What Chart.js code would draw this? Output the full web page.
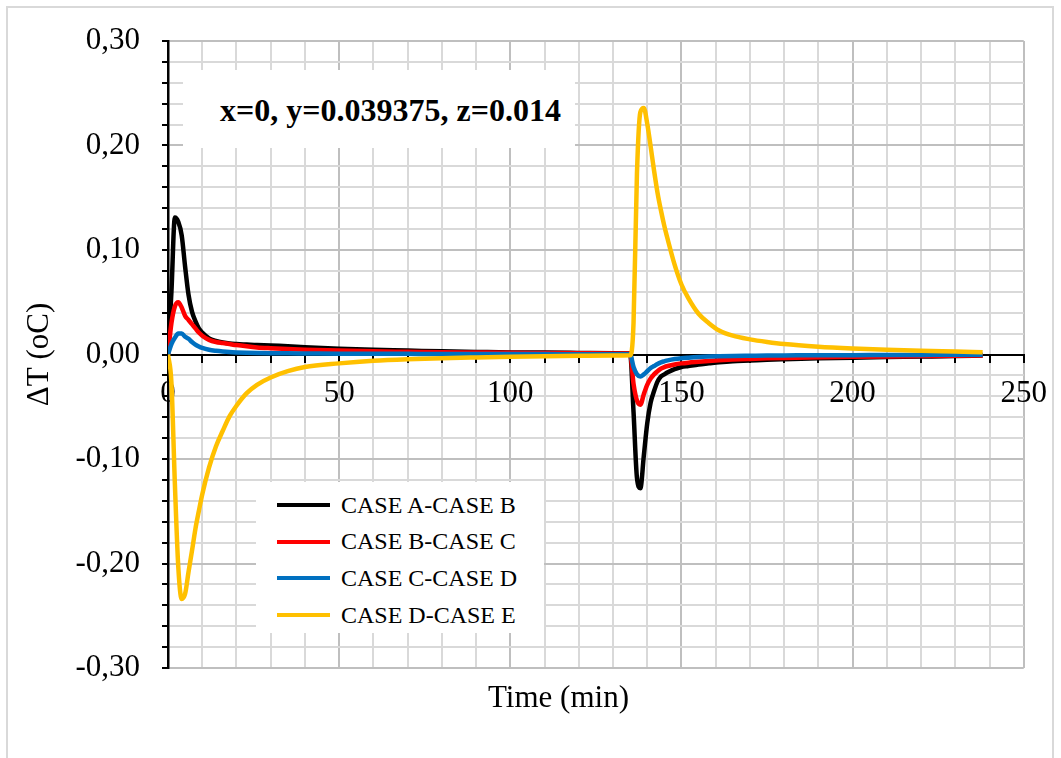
<!DOCTYPE html>
<html lang="en">
<head>
<meta charset="utf-8">
<title>ΔT vs Time</title>
<script src="https://cdn.jsdelivr.net/npm/chart.js@4"></script>
<style>
    html, body { margin: 0; padding: 0; background: #fff; }
    #wrap {
        position: relative; width: 1061px; height: 758px; overflow: hidden;
        font-family: "Liberation Serif", "Times New Roman", serif; color: #000;
    }
    #chart { position: absolute; left: 0; top: 0; }
    .frame {
        position: absolute; left: 6px; top: 6px; width: 1044px; height: 800px;
        border: 2px solid #d9d9d9; pointer-events: none;
    }
    .note {
        position: absolute; left: 183px; top: 70px; width: 392px; height: 78px;
        background: #fff; box-sizing: border-box; padding-left: 37px;
        font-weight: bold; font-size: 32px; line-height: 80px; white-space: nowrap;
    }
    .legend {
        position: absolute; left: 256px; top: 482px; width: 288px; height: 151px; background: #fff;
    }
    .legend-item {
        position: absolute; left: 21px; height: 30px; display: flex; align-items: center;
        font-size: 24px; white-space: nowrap;
    }
    .legend-swatch { width: 53px; height: 4px; margin-right: 11px; }
    .x-title { position: absolute; left: 488px; top: 680px; font-size: 31px; line-height: 34px; white-space: nowrap; }
</style>
</head>
<body>
<div id="wrap">
    <canvas id="chart" width="1061" height="758"></canvas>
    <div class="note">x=0, y=0.039375, z=0.014</div>
    <div class="legend" id="legend"></div>
    <div class="x-title">Time (min)</div>
    <div class="frame"></div>
</div>
<script>
// time axis (min), shared by all series
const times = [0, 1, 2, 3, 4, 5, 6, 7, 8, 9, 10, 12, 14, 16, 18, 20, 23, 26, 30, 35, 40,
    50, 60, 70, 80, 90, 100, 110, 120, 130,
    135, 136, 137, 138, 139, 140, 141, 142, 143, 144, 145, 146,
    148, 150, 152, 155, 158, 161, 165, 170, 175, 180,
    190, 200, 210, 220, 230, 238];

// ΔT values
const caseAB = [0, 0.060, 0.131, 0.127, 0.114, 0.084, 0.057, 0.041, 0.032, 0.025, 0.021,
    0.0155, 0.013, 0.0115, 0.0105, 0.010,
    0.0095, 0.009, 0.0087, 0.008, 0.007,
    0.0055, 0.0045, 0.0038, 0.003, 0.0025, 0.002, 0.0018, 0.0015, 0.0012,
    0.001, -0.055, -0.118, -0.128, -0.097, -0.066, -0.046, -0.035, -0.026, -0.021, -0.019, -0.017,
    -0.014, -0.012, -0.011, -0.0095, -0.0085, -0.0075, -0.0065, -0.0058, -0.005, -0.0045,
    -0.0037, -0.003, -0.0025, -0.002, -0.0015, -0.001];
const caseBC = [0, 0.030, 0.046, 0.050, 0.045, 0.037, 0.033, 0.029, 0.025, 0.021, 0.018,
    0.014, 0.012, 0.011, 0.010, 0.009,
    0.0078, 0.0068, 0.006, 0.0052, 0.0046,
    0.0038, 0.003, 0.0026, 0.0022, 0.0019, 0.0016, 0.0014, 0.0012, 0.001,
    0.0009, -0.028, -0.044, -0.048, -0.038, -0.029, -0.023, -0.019, -0.016, -0.0135, -0.012, -0.011,
    -0.0095, -0.0085, -0.0078, -0.007, -0.0062, -0.0055, -0.0048, -0.0042, -0.0037, -0.0033,
    -0.0027, -0.0022, -0.0018, -0.0015, -0.0012, -0.001];
const caseCD = [0, 0.010, 0.016, 0.020, 0.020, 0.017, 0.015, 0.012, 0.0095, 0.0077, 0.0063,
    0.0045, 0.0035, 0.0028, 0.0023, 0.002,
    0.0017, 0.0015, 0.0013, 0.0011, 0.001,
    0.0008, 0.0007, 0.0006, 0.0005, 0.0005, 0.0004, 0.0004, 0.0003, 0.0003,
    0.0003, -0.012, -0.019, -0.021, -0.019, -0.016, -0.013, -0.011, -0.009, -0.0075, -0.0065, -0.0056,
    -0.0043, -0.0035, -0.003, -0.0024, -0.002, -0.0017, -0.0014, -0.0012, -0.001, -0.0009,
    -0.0007, -0.0006, -0.0005, -0.0004, -0.0003, -0.0003];
const caseDE = [0, -0.027, -0.123, -0.203, -0.234, -0.229, -0.208, -0.188, -0.167, -0.150, -0.134,
    -0.108, -0.088, -0.073, -0.059, -0.049,
    -0.037, -0.029, -0.022, -0.016, -0.012,
    -0.0085, -0.006, -0.0045, -0.0035, -0.0028, -0.0022, -0.0017, -0.0013, -0.001,
    -0.0008, 0.030, 0.173, 0.232, 0.236, 0.221, 0.199, 0.176, 0.155, 0.138, 0.123, 0.110,
    0.086, 0.067, 0.054, 0.039, 0.030, 0.023, 0.018, 0.0145, 0.012, 0.010,
    0.0075, 0.0058, 0.0045, 0.0035, 0.0028, 0.0022];

const seriesNames = ['CASE A-CASE B', 'CASE B-CASE C', 'CASE C-CASE D', 'CASE D-CASE E'];
const seriesValues = [caseAB, caseBC, caseCD, caseDE];
const seriesColors = ['#000000', '#ff0000', '#0070c0', '#ffc000'];

// labelled ticks (the other grid steps stay unlabelled)
const xTickLabels = ['0', '50', '100', '150', '200', '250'];
const yTickLabels = ['0,30', '0,20', '0,10', '0,00', '-0,10', '-0,20', '-0,30'];

const FONT = '"Liberation Serif", "Times New Roman", serif';
const axisFont = { family: FONT, size: 31, lineHeight: 1.2 };
const majorGrid = '#bfbfbf';
const minorGrid = '#d9d9d9';

const fmtY = (v) => (Math.round(v * 100) / 100).toFixed(2).replace('.', ',');

// HTML legend inside the plot
const legendEl = document.getElementById('legend');
seriesNames.forEach((name, i) => {
    const item = document.createElement('div');
    item.className = 'legend-item';
    item.style.top = (8 + i * 36.7) + 'px';
    item.innerHTML = `<span class="legend-swatch" style="background:${seriesColors[i]}"></span><span>${name}</span>`;
    legendEl.appendChild(item);
});

new Chart(document.getElementById('chart'), {
    type: 'line',
    data: {
        datasets: seriesNames.map((name, i) => ({
            label: name,
            data: times.map((t, k) => ({ x: t, y: seriesValues[i][k] })),
            borderColor: seriesColors[i],
            backgroundColor: seriesColors[i],
            borderWidth: 4.5,
            pointRadius: 0,
            fill: false,
            cubicInterpolationMode: 'monotone',
            order: seriesNames.length - 1 - i // last series on top, as in the original
        }))
    },
    options: {
        responsive: false,
        animation: false,
        layout: { padding: { left: 0, top: 41, right: 34, bottom: 90 } },
        plugins: {
            legend: { display: false },
            tooltip: { enabled: false }
        },
        scales: {
            x: {
                type: 'linear',
                position: { y: 0 },
                min: 0,
                max: 250,
                ticks: {
                    stepSize: 10,
                    autoSkip: false,
                    maxRotation: 0,
                    minRotation: 0,
                    padding: 14,
                    color: '#000',
                    font: axisFont,
                    callback: (v) => xTickLabels.includes(String(v)) ? String(v) : ''
                },
                grid: {
                    color: (ctx) => (ctx.tick && ctx.tick.value % 50 === 0) ? majorGrid : minorGrid,
                    lineWidth: 2,
                    tickLength: 7,
                    tickColor: '#000'
                },
                border: { color: '#000', width: 2 }
            },
            y: {
                type: 'linear',
                position: 'left',
                min: -0.3,
                max: 0.3,
                afterFit: (scale) => { scale.width = 168; },
                ticks: {
                    stepSize: 0.02,
                    autoSkip: false,
                    padding: 22,
                    color: '#000',
                    font: axisFont,
                    callback: (v) => yTickLabels.includes(fmtY(v)) ? fmtY(v) : ''
                },
                grid: {
                    // zero line doubles as the horizontal axis
                    color: (ctx) => {
                        if (!ctx.tick) return minorGrid;
                        const k = Math.round(ctx.tick.value * 100);
                        if (k === 0) return '#000';
                        return k % 10 === 0 ? majorGrid : minorGrid;
                    },
                    lineWidth: 2,
                    tickLength: 6,
                    tickColor: '#000'
                },
                border: { color: '#000', width: 2.5 },
                title: {
                    display: true,
                    text: 'ΔT (oC)',
                    color: '#000',
                    font: axisFont,
                    padding: { top: 21, bottom: 0 }
                }
            }
        }
    }
});
</script>
</body>
</html>
